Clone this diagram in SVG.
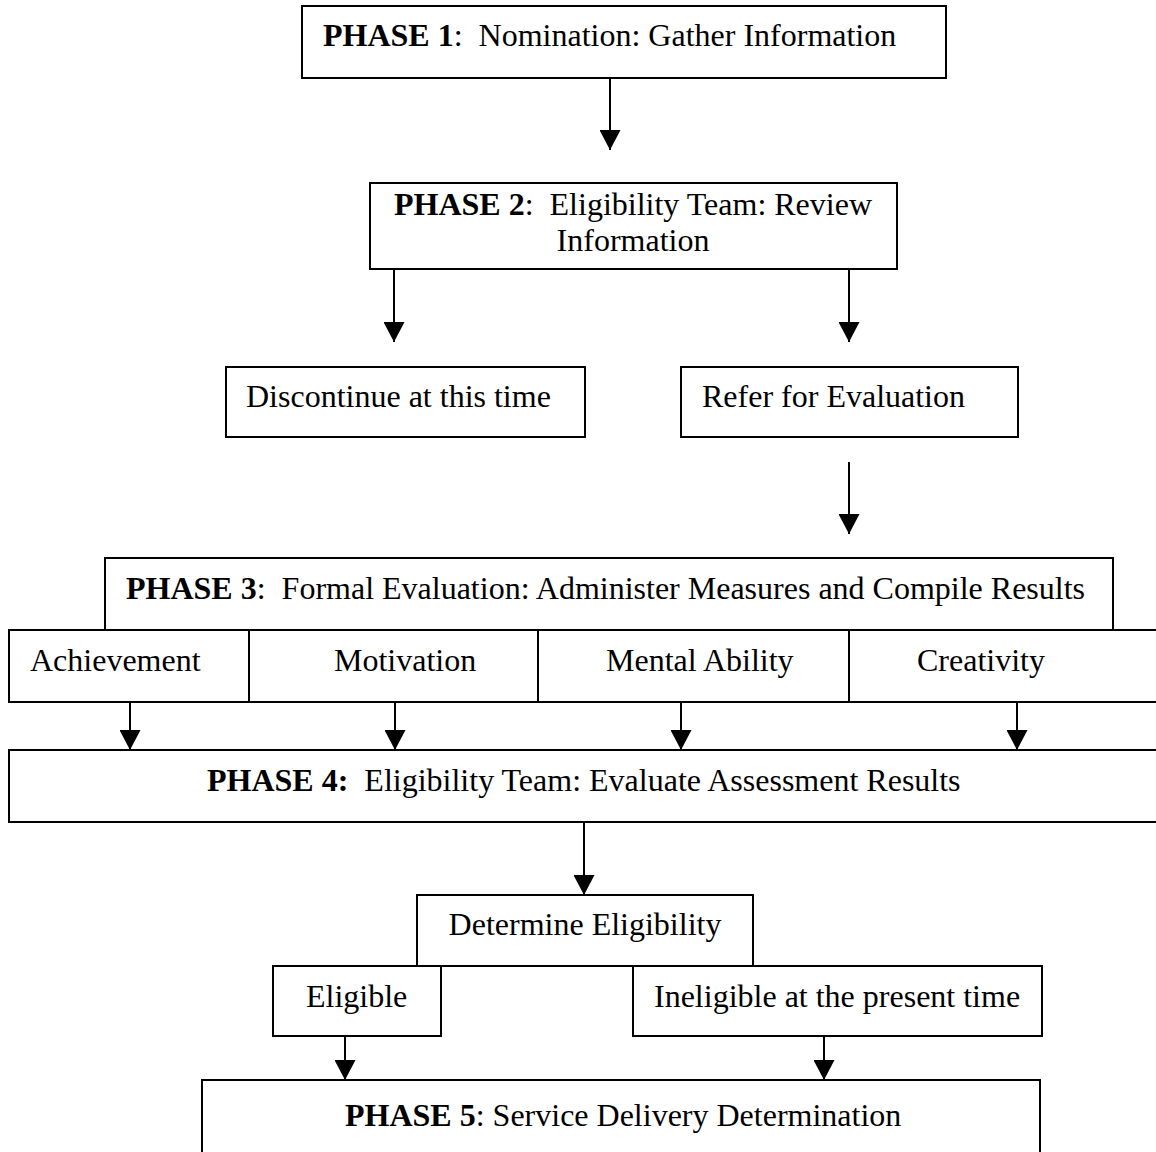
<svg xmlns="http://www.w3.org/2000/svg" width="1156" height="1152" viewBox="0 0 1156 1152">
  <style>
    .box { fill: #ffffff; stroke: #000000; stroke-width: 2; }
    .t { font-family: "Liberation Serif", "Times New Roman", serif; font-size: 32px; fill: #000000; white-space: pre; }
    .b { font-weight: bold; }
    .c { stroke: #000000; stroke-width: 2; fill: none; marker-end: url(#arr); }
  </style>
  <defs>
    <marker id="arr" viewBox="0 0 20 21" refX="20" refY="10.5" markerWidth="20" markerHeight="21" markerUnits="userSpaceOnUse" orient="auto">
      <path d="M0,0 L20,10.5 L0,21 Z" fill="#000000"/>
    </marker>
  </defs>
  <rect width="1156" height="1152" fill="#ffffff"/>

  <g id="connectors">
    <line class="c" x1="610" y1="78" x2="610" y2="150"/>
    <line class="c" x1="394" y1="269" x2="394" y2="342"/>
    <line class="c" x1="849" y1="269" x2="849" y2="342"/>
    <line class="c" x1="849" y1="462" x2="849" y2="534"/>
    <line class="c" x1="130" y1="702" x2="130" y2="750"/>
    <line class="c" x1="395" y1="702" x2="395" y2="750"/>
    <line class="c" x1="681" y1="702" x2="681" y2="750"/>
    <line class="c" x1="1017" y1="702" x2="1017" y2="750"/>
    <line class="c" x1="584" y1="822" x2="584" y2="895"/>
    <line class="c" x1="345" y1="1036" x2="345" y2="1080"/>
    <line class="c" x1="824" y1="1036" x2="824" y2="1080"/>
  </g>

  <g id="phase1">
    <rect class="box" x="302" y="6" width="644" height="72"/>
    <text class="t" x="323" y="46"><tspan class="b">PHASE 1</tspan>:  Nomination: Gather Information</text>
  </g>

  <g id="phase2">
    <rect class="box" x="370" y="183" width="527" height="86"/>
    <text class="t" x="633" y="215" text-anchor="middle"><tspan class="b">PHASE 2</tspan>:  Eligibility Team: Review</text>
    <text class="t" x="633" y="251" text-anchor="middle">Information</text>
  </g>

  <g id="discontinue">
    <rect class="box" x="226" y="367" width="359" height="70"/>
    <text class="t" x="246" y="407">Discontinue at this time</text>
  </g>

  <g id="refer">
    <rect class="box" x="681" y="367" width="337" height="70"/>
    <text class="t" x="702" y="407">Refer for Evaluation</text>
  </g>

  <g id="phase3">
    <rect class="box" x="105" y="558" width="1008" height="72"/>
    <text class="t" x="126" y="599"><tspan class="b">PHASE 3</tspan>:  Formal Evaluation: Administer Measures and Compile Results</text>
  </g>

  <g id="achievement">
    <rect class="box" x="9" y="630" width="240" height="72"/>
    <text class="t" x="30" y="671">Achievement</text>
  </g>
  <g id="motivation">
    <rect class="box" x="249" y="630" width="289" height="72"/>
    <text class="t" x="334" y="671">Motivation</text>
  </g>
  <g id="mental-ability">
    <rect class="box" x="538" y="630" width="311" height="72"/>
    <text class="t" x="606" y="671">Mental Ability</text>
  </g>
  <g id="creativity">
    <rect class="box" x="849" y="630" width="320" height="72"/>
    <text class="t" x="917" y="671">Creativity</text>
  </g>

  <g id="phase4">
    <rect class="box" x="9" y="750" width="1160" height="72"/>
    <text class="t" x="207" y="791"><tspan class="b">PHASE 4:</tspan>  Eligibility Team: Evaluate Assessment Results</text>
  </g>

  <g id="determine">
    <rect class="box" x="417" y="895" width="336" height="71"/>
    <text class="t" x="585" y="935" text-anchor="middle">Determine Eligibility</text>
  </g>

  <g id="eligible">
    <rect class="box" x="273" y="966" width="168" height="70"/>
    <text class="t" x="306" y="1007">Eligible</text>
  </g>

  <g id="ineligible">
    <rect class="box" x="633" y="966" width="409" height="70"/>
    <text class="t" x="654" y="1007">Ineligible at the present time</text>
  </g>

  <g id="phase5">
    <rect class="box" x="202" y="1080" width="838" height="90"/>
    <text class="t" x="345" y="1126"><tspan class="b">PHASE 5</tspan>: Service Delivery Determination</text>
  </g>
</svg>
